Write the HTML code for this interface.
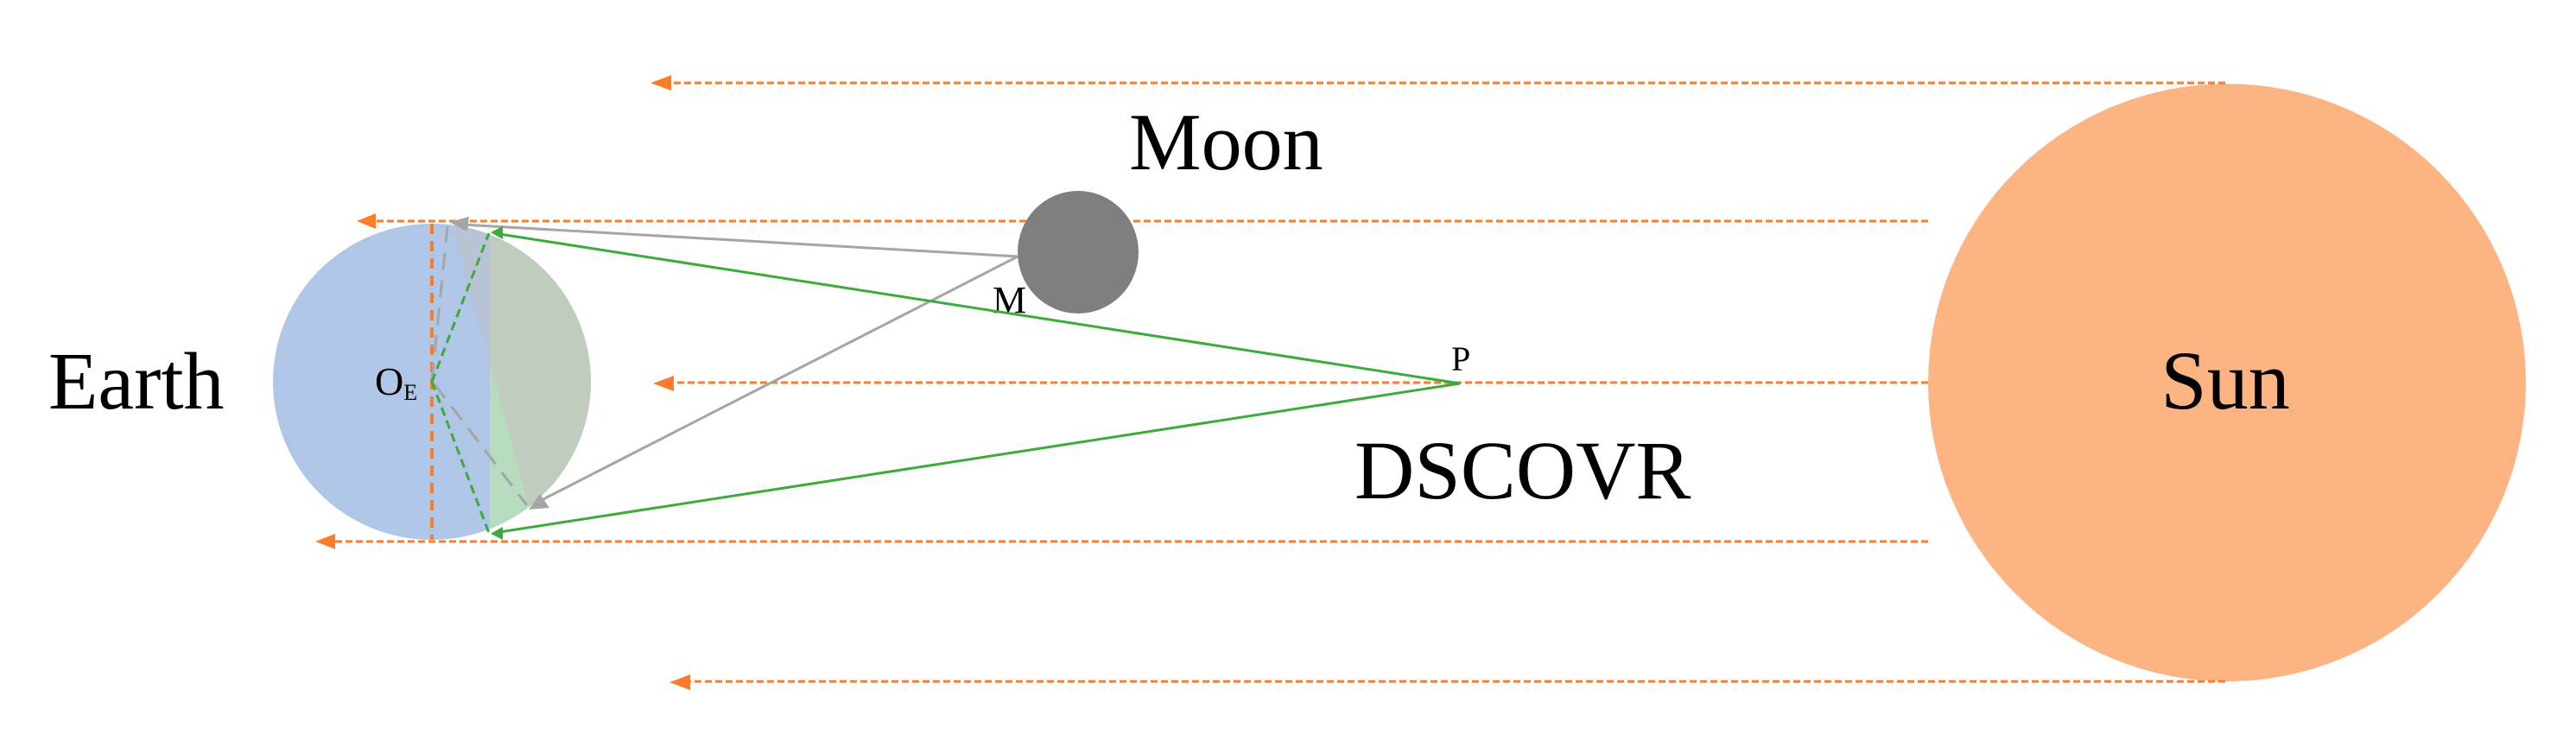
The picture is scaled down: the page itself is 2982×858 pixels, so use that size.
<!DOCTYPE html>
<html><head><meta charset="utf-8"><style>
html,body{margin:0;padding:0;background:#fff;}
svg{display:block;}
text{font-family:"Liberation Serif",serif;fill:#000;}
</style></head><body>
<svg width="2982" height="858" viewBox="0 0 2982 858" xmlns="http://www.w3.org/2000/svg">
<defs>
<clipPath id="ec"><ellipse cx="500" cy="442" rx="184" ry="183"/></clipPath>
</defs>
<!-- Sun -->
<circle cx="2578" cy="443" r="346" fill="#fdb483"/>
<text x="2576" y="473" font-size="96" text-anchor="middle">Sun</text>
<!-- Earth -->
<ellipse cx="500" cy="442" rx="184" ry="183" fill="#afc6e7"/>
<g clip-path="url(#ec)">
<rect x="567" y="250" width="130" height="390" fill="#c0ccbd"/>
<polygon points="567,419 613,588 640,640 567,640" fill="#b7dbbd"/>
<polygon points="523,258 567,258 567,419" fill="#b8c3d3"/>
</g>
<!-- orange rays -->
<g stroke="#fb7d2b" stroke-width="3" stroke-dasharray="8,4" fill="none">
<line x1="2576" y1="96" x2="770" y2="96"/>
<line x1="2232" y1="256" x2="430" y2="256"/>
<line x1="2232" y1="443" x2="773" y2="443"/>
<line x1="2232" y1="627" x2="382" y2="627"/>
<line x1="2576" y1="789" x2="792" y2="789"/>
</g>
<line x1="500" y1="259" x2="500" y2="625" stroke="#fb7d2b" stroke-width="4" stroke-dasharray="12,8"/>
<g fill="#fb7d2b">
<polygon points="753,96 777,87 777,105"/>
<polygon points="413,256 435,247 435,265"/>
<polygon points="756,444 780,435 780,453"/>
<polygon points="365,627 388,618 388,636"/>
<polygon points="775,790 799,781 799,799"/>
</g>
<!-- Moon -->
<ellipse cx="1248" cy="292" rx="70" ry="71" fill="#7f7f7f"/>
<text x="1307" y="196" font-size="94">Moon</text>
<text x="1149" y="362" font-size="44">M</text>
<!-- gray lines -->
<g stroke="#a5a5a5" stroke-width="3" fill="none">
<line x1="1178" y1="297" x2="535" y2="260"/>
<line x1="1178" y1="297" x2="625" y2="580"/>
<line x1="500" y1="440" x2="518" y2="262" stroke-dasharray="20,12"/>
<line x1="503" y1="445" x2="610" y2="585" stroke-dasharray="20,12"/>
</g>
<g fill="#a5a5a5">
<polygon points="520,257 543,251 541,268"/>
<polygon points="612,590 625,572 636,588"/>
</g>
<!-- green lines -->
<g stroke="#3eaa3a" stroke-width="3" fill="none">
<line x1="1690" y1="444" x2="572" y2="270"/>
<line x1="1690" y1="444" x2="572" y2="617"/>
<line x1="500" y1="442" x2="566" y2="270" stroke-dasharray="10,6"/>
<line x1="500" y1="442" x2="566" y2="617" stroke-dasharray="10,6"/>
</g>
<g fill="#3eaa3a">
<polygon points="568,269 582,262 582,277"/>
<polygon points="568,618 582,610 582,625"/>
</g>
<text x="1680" y="429" font-size="40">P</text>
<text x="1568" y="577" font-size="96">DSCOVR</text>
<text x="56" y="473" font-size="94">Earth</text>
<text x="434" y="457" font-size="46">O<tspan font-size="26" dy="6">E</tspan></text>
</svg>
</body></html>
